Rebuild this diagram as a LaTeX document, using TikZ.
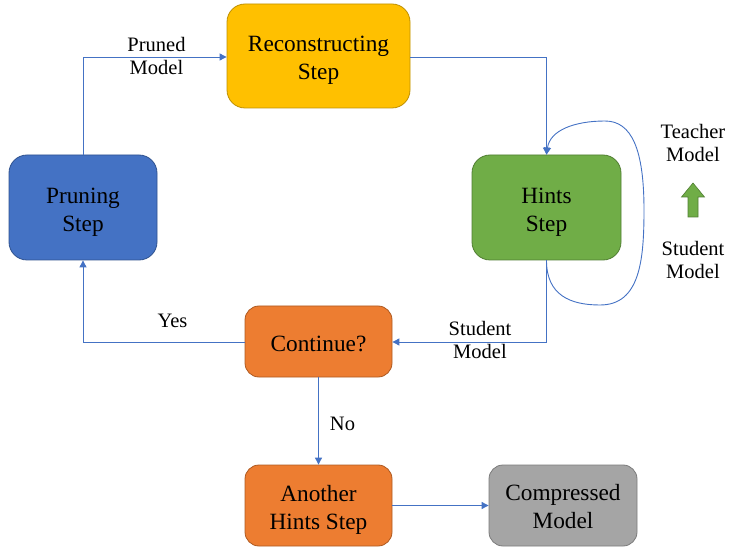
\documentclass[tikz,border=0pt]{standalone}
\usepackage{fontspec}
\setmainfont{Liberation Serif}
\usetikzlibrary{arrows.meta}
\definecolor{lineblue}{HTML}{4472C4}
\definecolor{cyellow}{HTML}{FFC000}
\definecolor{cyellowd}{HTML}{BF9000}
\definecolor{cblue}{HTML}{4472C4}
\definecolor{cblued}{HTML}{2F528F}
\definecolor{cgreen}{HTML}{70AD47}
\definecolor{cgreend}{HTML}{507E32}
\definecolor{corange}{HTML}{ED7D31}
\definecolor{coranged}{HTML}{AE5A21}
\definecolor{cgray}{HTML}{A5A5A5}
\definecolor{cgrayd}{HTML}{7B7B7B}
\tikzset{
  box/.style={rounded corners=18pt, line width=0.8pt, inner sep=0pt},
  boxtext/.style={align=center, inner sep=0pt, font=\fontsize{23.3}{28}\selectfont, text=black},
  conn/.style={draw=lineblue, line width=0.9pt, -{Triangle[length=7pt,width=7pt]}},
  lbl/.style={align=center, font=\fontsize{20.5}{23.5}\selectfont, inner sep=0pt}
}
\begin{document}
\begin{tikzpicture}[x=1pt,y=-1pt]
\useasboundingbox (0,0) rectangle (729,548);
\node[box, fill=cyellow, draw=cyellowd, minimum width=183pt, minimum height=104pt] (rec) at (318.5,56) {};
\node[box, fill=cblue, draw=cblued, minimum width=148pt, minimum height=105pt] (pru) at (83,207.5) {};
\node[box, fill=cgreen, draw=cgreend, minimum width=149pt, minimum height=105pt] (hin) at (546.5,207.5) {};
\node[box, fill=corange, draw=coranged, minimum width=147pt, minimum height=71pt, rounded corners=14pt] (con) at (318.5,341.5) {};
\node[box, fill=corange, draw=coranged, minimum width=147pt, minimum height=81pt, rounded corners=14pt] (ano) at (318.5,505.5) {};
\node[box, fill=cgray, draw=cgrayd, minimum width=148pt, minimum height=81pt, rounded corners=14pt] (cmp) at (563,505.5) {};

\node[boxtext] (rect) at ([yshift=-4pt]rec.center) {Reconstructing\\Step};
\node[boxtext] (prut) at ([yshift=-5pt]pru.center) {Pruning\\Step};
\node[boxtext] (hint) at ([yshift=-5pt]hin.center) {Hints\\Step};
\node[boxtext] (cont) at ([yshift=-2pt]con.center) {Continue?};
\node[boxtext] (anot) at ([yshift=-4pt]ano.center) {Another\\Hints Step};
\node[boxtext] (cmpt) at ([yshift=-1pt]cmp.center) {Compressed\\Model};

\coordinate (c1) at (83,57);
\coordinate (c2) at (546.5,57);
\coordinate (c3) at (546.5,342);
\coordinate (c4) at (83,342);
\draw[conn] (pru.north) -- (c1) -- (rec.west |- c1);
\draw[conn] (rec.east |- c2) -- (c2) -- (hin.north);
\draw[conn] (hin.south) -- (c3) -- (con.east |- c3);
\draw[conn] (con.west |- c4) -- (c4) -- (pru.south);
\draw[conn] (con.south) -- (ano.north);
\draw[conn] (ano.east) -- (cmp.west);
\draw[conn] (hin.south) .. controls (546.5,295) and (570,305) .. (600,305)
  .. controls (640,305) and (644,260) .. (644,210)
  .. controls (644,150) and (632,121) .. (605,121)
  .. controls (575,121) and (550,130) .. (hin.north);

\node[lbl] (lpm) at (156.5,56) {Pruned\\Model};
\node[lbl] (lyes) at (172.5,321) {Yes};
\node[lbl] (lsm) at (480,340) {Student\\Model};
\node[lbl] (lno) at (342.5,424) {No};
\node[lbl] (ltm) at (693,143) {Teacher\\Model};
\node[lbl] (lsm2) at (693,260) {Student\\Model};
\draw[fill=cgreen, draw=cgreend, line width=0.6pt] (688,217) -- (688,197) -- (681.5,197) -- (693,183) -- (704.5,197) -- (698,197) -- (698,217) -- cycle;
\end{tikzpicture}
\end{document}
